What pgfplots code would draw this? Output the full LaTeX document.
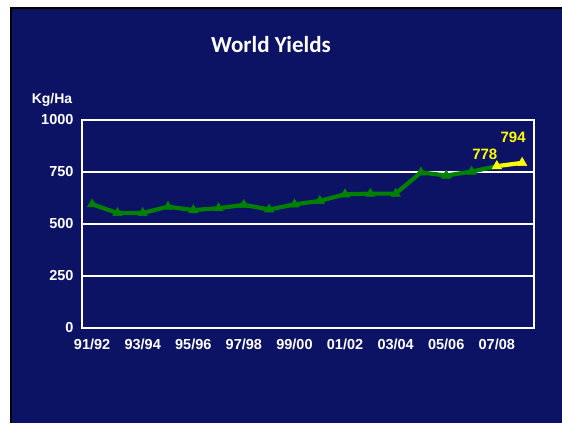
\documentclass[border=0pt]{standalone}
\usepackage{fontspec}
\setmainfont{Liberation Sans}
\newfontfamily\titlefont{Carlito}
\usepackage{pgfplots}
\pgfplotsset{compat=1.18}
\definecolor{bgnavy}{RGB}{12,18,100}
\definecolor{lgreen}{RGB}{0,128,0}
\definecolor{lyellow}{RGB}{255,255,0}
\begin{document}
\begin{tikzpicture}[x=1pt,y=1pt]
\useasboundingbox (0,0) rectangle (562,423);
\fill[white] (0,0) rectangle (562,423);
\fill[bgnavy] (11,0) rectangle (562,415);
\draw[black,line width=2pt] (11,0) -- (11,415) -- (562,415);
\node[white,font=\titlefont\bfseries\fontsize{23}{27}\selectfont] at (271,378) {World Yields};
\node[white,font=\bfseries\fontsize{14}{16}\selectfont] at (52,323) {Kg/Ha};
\begin{axis}[
  at={(82pt,95pt)}, anchor=south west,
  scale only axis, width=452pt, height=208pt,
  xmin=-0.4, xmax=17.47, ymin=0, ymax=1000,
  axis line style={white,line width=2.2pt},
  xtick={0,2,...,16},
  xticklabels={91/92,93/94,95/96,97/98,99/00,01/02,03/04,05/06,07/08},
  ytick={0,250,500,750,1000},
  tick style={draw=none},
  ymajorgrids, grid style={white,line width=1.8pt},
  /pgf/number format/assume math mode=true,
  /pgf/number format/1000 sep={},
  ticklabel style={white,font=\bfseries\fontsize{14.5}{16}\selectfont},
  yticklabel style={xshift=-5pt},
  xticklabel style={yshift=-7pt},
  clip=false,
]
\addplot[lgreen,line width=4.2pt,mark=triangle*,mark size=5.5pt,mark options={line width=0.5pt}] coordinates {
(0,595) (1,553) (2,553) (3,583) (4,567) (5,576) (6,592) (7,570) (8,594)
(9,611) (10,643) (11,646) (12,646) (13,748) (14,733) (15,752) (16,778)};
\addplot[lyellow,line width=4.2pt,mark=triangle*,mark size=5.5pt,mark options={line width=0.5pt}] coordinates {
(16,778) (17,794)};
\node[lyellow,font=\bfseries\fontsize{15}{17}\selectfont] at (axis cs:16,778) [xshift=-12pt,yshift=12pt] {778};
\node[lyellow,font=\bfseries\fontsize{15}{17}\selectfont] at (axis cs:17,794) [xshift=-9pt,yshift=26pt] {794};
\end{axis}
\end{tikzpicture}
\end{document}
